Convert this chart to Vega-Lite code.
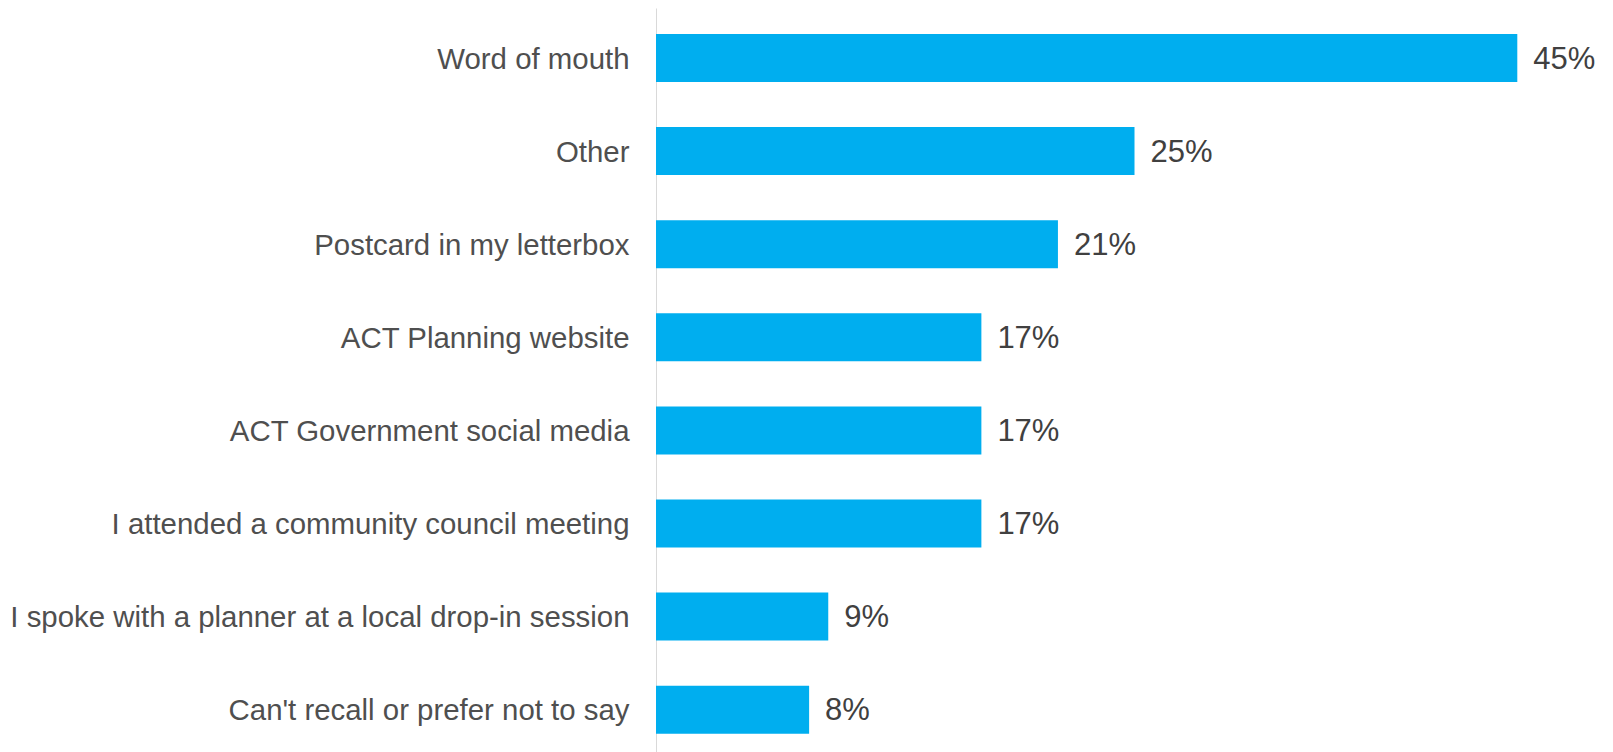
{
  "$schema": "https://vega.github.io/schema/vega-lite/v6.json",
  "autosize": {"type": "none"},
  "width": 957,
  "height": 744,
  "padding": {"left": 656, "top": 8, "right": 0, "bottom": 0},
  "background": "white",
  "config": {"view": {"stroke": null}, "font": "Liberation Sans"},
  "data": {"values": [
    {"source": "Word of mouth", "pct": 0.45},
    {"source": "Other", "pct": 0.25},
    {"source": "Postcard in my letterbox", "pct": 0.21},
    {"source": "ACT Planning website", "pct": 0.17},
    {"source": "ACT Government social media", "pct": 0.17},
    {"source": "I attended a community council meeting", "pct": 0.17},
    {"source": "I spoke with a planner at a local drop-in session", "pct": 0.09},
    {"source": "Can't recall or prefer not to say", "pct": 0.08}
  ]},
  "encoding": {
    "y": {"field": "source", "type": "nominal", "sort": null,
      "scale": {"paddingInner": 0.4846, "paddingOuter": 0.238, "align": 0.587},
      "axis": {"title": null, "ticks": false, "labelPadding": 27, "labelLimit": 700,
        "labelFontSize": 29.4, "labelColor": "#4f4f4f", "labelFont": "Liberation Sans", "labelOffset": 1.5,
        "domainColor": "#d9d9d9", "domainWidth": 1}},
    "x": {"field": "pct", "type": "quantitative", "scale": {"domain": [0, 0.5]}, "axis": null}
  },
  "layer": [
    {"mark": {"type": "bar", "color": "#00AEEF"}},
    {"mark": {"type": "text", "align": "left", "baseline": "middle", "dx": 16, "dy": 1.5, "fontSize": 31, "color": "#404040", "font": "Liberation Sans"},
     "encoding": {"text": {"field": "pct", "type": "quantitative", "format": ".0%"}}}
  ]
}
